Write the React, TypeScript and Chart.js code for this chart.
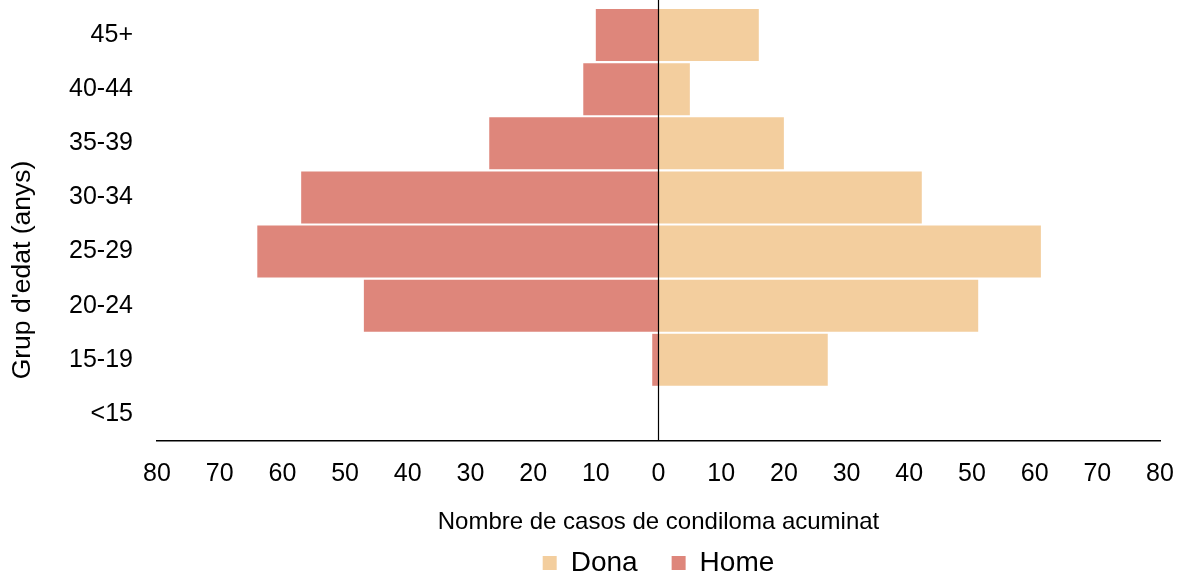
import React, { useEffect, useRef } from 'react';
import { Chart, registerables } from 'chart.js';

Chart.register(...registerables);

const ageGroups = ['<15', '15-19', '20-24', '25-29', '30-34', '35-39', '40-44', '45+'];
const donaCases = [0, 27, 51, 61, 42, 20, 5, 16];
const homeCases = [0, 1, 47, 64, 57, 27, 12, 10];
const xMin = -80;
const xMax = 80;
const xStep = 10;

const seriesNames = ['Dona', 'Home'];
const xTitle = 'Nombre de casos de condiloma acuminat';
const yTitle = "Grup d'edat (anys)";
const donaColor = '#F3CE9E';
const homeColor = '#DE867B';
const fontFamily = "'Liberation Sans', Arial, sans-serif";

const zeroLinePlugin = {
  id: 'zeroLine',
  afterDatasetsDraw(chart: any) {
    const x = chart.scales.x.getPixelForValue(0);
    const ctx = chart.ctx;
    ctx.save();
    ctx.strokeStyle = '#000';
    ctx.lineWidth = 1.2;
    ctx.beginPath();
    ctx.moveTo(x, 0);
    ctx.lineTo(x, chart.chartArea.bottom);
    ctx.stroke();
    ctx.restore();
  },
};

const yTitlePlugin = {
  id: 'yTitle',
  afterDraw(chart: any) {
    const ctx = chart.ctx;
    ctx.save();
    ctx.translate(23, 270);
    ctx.rotate(-Math.PI / 2);
    ctx.fillStyle = '#000';
    ctx.font = `26.5px ${fontFamily}`;
    ctx.textAlign = 'center';
    ctx.textBaseline = 'middle';
    ctx.fillText(yTitle, 0, 0);
    ctx.restore();
  },
};

const clearPadding = (scale: any) => {
  scale.paddingTop = 0;
  scale.paddingBottom = 0;
  scale.paddingLeft = 0;
  scale.paddingRight = 0;
};

export default function App() {
  const canvasRef = useRef<HTMLCanvasElement | null>(null);

  useEffect(() => {
    const canvas = canvasRef.current;
    if (!canvas) return;
    const chart = new Chart(canvas, {
      type: 'bar',
      data: {
        labels: ageGroups,
        datasets: [
          {
            label: seriesNames[0],
            data: donaCases,
            backgroundColor: donaColor,
            barPercentage: 0.96,
            categoryPercentage: 1,
          },
          {
            label: seriesNames[1],
            data: homeCases.map((v) => -v),
            backgroundColor: homeColor,
            barPercentage: 0.96,
            categoryPercentage: 1,
          },
        ],
      },
      plugins: [zeroLinePlugin, yTitlePlugin],
      options: {
        indexAxis: 'y',
        animation: false,
        responsive: true,
        maintainAspectRatio: false,
        layout: { autoPadding: false, padding: { top: 8, right: 20, left: 0, bottom: -10 } },
        plugins: {
          tooltip: { enabled: false },
          legend: {
            position: 'bottom',
            fullSize: false,
            labels: {
              font: { family: fontFamily, size: 28 },
              color: '#000',
              boxWidth: 14,
              boxHeight: 14,
              padding: 34,
            },
          },
        },
        scales: {
          x: {
            stacked: true,
            min: xMin,
            max: xMax,
            ticks: {
              stepSize: xStep,
              color: '#000',
              font: { family: fontFamily, size: 25 },
              padding: 18,
              maxRotation: 0,
              callback: (v: any) => String(Math.abs(Number(v))),
            },
            grid: { display: false, drawTicks: false },
            border: { display: true, color: '#000', width: 1.6 },
            title: {
              display: true,
              text: xTitle,
              color: '#000',
              font: { family: fontFamily, size: 24 },
              padding: { top: 0, bottom: -22 },
            },
            afterFit: (scale: any) => {
              scale.height = 74;
              clearPadding(scale);
            },
          },
          y: {
            stacked: true,
            reverse: true,
            grid: { display: false, drawTicks: false },
            border: { display: false },
            ticks: {
              color: '#000',
              font: { family: fontFamily, size: 25 },
              padding: 24,
            },
            title: { display: false },
            afterFit: (scale: any) => {
              scale.width = 157;
              clearPadding(scale);
            },
          },
        },
      },
    });
    return () => chart.destroy();
  }, []);

  return (
    <div style={{ position: 'absolute', left: 0, top: 0, width: 1180, height: 577, background: '#fff' }}>
      <canvas ref={canvasRef} />
    </div>
  );
}
